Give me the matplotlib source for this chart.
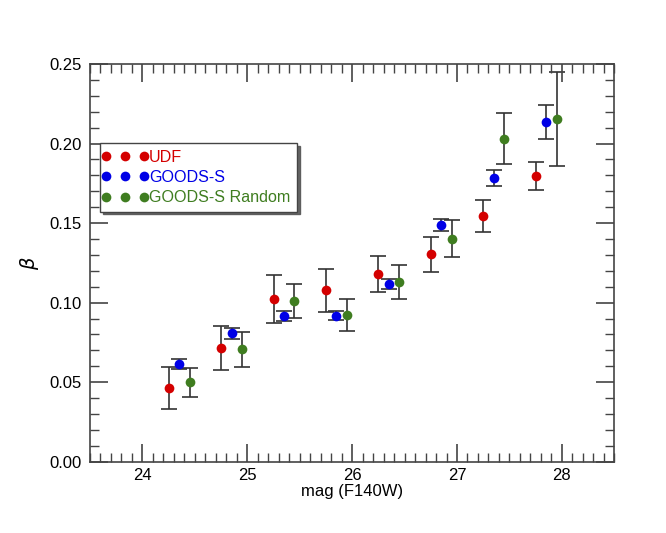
import matplotlib
matplotlib.use("Agg")
import matplotlib.pyplot as plt
from matplotlib.ticker import MultipleLocator, FormatStrFormatter
from matplotlib.legend_handler import HandlerLine2D

plt.rcParams['font.family'] = ['Liberation Sans', 'DejaVu Sans']

bins = [24.0, 24.5, 25.0, 25.5, 26.0, 26.5, 27.0, 27.5]
series_names = ["UDF", "GOODS-S", "GOODS-S Random"]
offsets = [0.25, 0.35, 0.45]
colors = ["#d40000", "#0000e6", "#3f7d20"]

udf_beta = [0.0465, 0.0715, 0.1023, 0.1077, 0.1180, 0.1304, 0.1544, 0.1796]
udf_err = [0.0132, 0.0138, 0.0150, 0.0133, 0.0114, 0.0111, 0.0103, 0.0085]
goods_beta = [0.0614, 0.0807, 0.0916, 0.0918, 0.1115, 0.1488, 0.1781, 0.2133]
goods_err = [0.0031, 0.0035, 0.0031, 0.0028, 0.0031, 0.0038, 0.0051, 0.0107]
rand_beta = [0.0499, 0.0707, 0.1012, 0.0920, 0.1130, 0.1402, 0.2030, 0.2152]
rand_err = [0.0090, 0.0111, 0.0107, 0.0100, 0.0105, 0.0118, 0.0160, 0.0295]

values = [udf_beta, goods_beta, rand_beta]
errors = [udf_err, goods_err, rand_err]

fig = plt.figure(figsize=(6.66, 5.33), dpi=100)
ax = fig.add_axes([90/666, 1-461.7/533, 524.3/666, 397.7/533])

handles = []
for name, off, col, v, e in zip(series_names, offsets, colors, values, errors):
    xs = [b + off for b in bins]
    ax.errorbar(xs, v, yerr=e, fmt='none', ecolor='#333333', elinewidth=1.2,
                capsize=6, capthick=1.2, zorder=1)
    h, = ax.plot(xs, v, 'o', color=col, markersize=7, markeredgewidth=0,
                 label=name, zorder=2)
    handles.append(h)

ax.set_xlim(23.5, 28.5)
ax.set_ylim(0.0, 0.25)
ax.xaxis.set_major_locator(MultipleLocator(1))
ax.xaxis.set_minor_locator(MultipleLocator(0.1))
ax.yaxis.set_major_locator(MultipleLocator(0.05))
ax.yaxis.set_minor_locator(MultipleLocator(0.01))
ax.yaxis.set_major_formatter(FormatStrFormatter('%.2f'))

for s in ax.spines.values():
    s.set_color('#444444')
    s.set_linewidth(1.2)
ax.tick_params(which='both', direction='in', top=True, right=True,
               colors='#444444', labelcolor='black', labelsize=12)
ax.tick_params(which='major', length=13, width=1.2)
ax.tick_params(which='minor', length=6.5, width=1.0)
ax.tick_params(axis='y', which='major', pad=6)
ax.tick_params(axis='x', which='major', pad=4.5)

ax.set_xlabel('mag (F140W)', fontsize=12, labelpad=1)
ax.set_ylabel(r'$\beta$', fontsize=14, labelpad=6)

hmap = {h: HandlerLine2D(numpoints=3, marker_pad=0.0) for h in handles}
leg = ax.legend(handles=handles, loc='upper left', bbox_to_anchor=(0.019, 0.801),
                numpoints=3, handler_map=hmap,
                frameon=True, shadow={'color': '#555555', 'alpha': 0.9},
                fancybox=False, fontsize=11.6, handlelength=2.35,
                handletextpad=0.3, borderpad=0.4, labelspacing=0.33,
                borderaxespad=0.0)
leg.get_frame().set_edgecolor('#444444')
leg.get_frame().set_linewidth(1.0)
for t, c in zip(leg.get_texts(), colors):
    t.set_color(c)

fig.savefig('out.png', dpi=100)
